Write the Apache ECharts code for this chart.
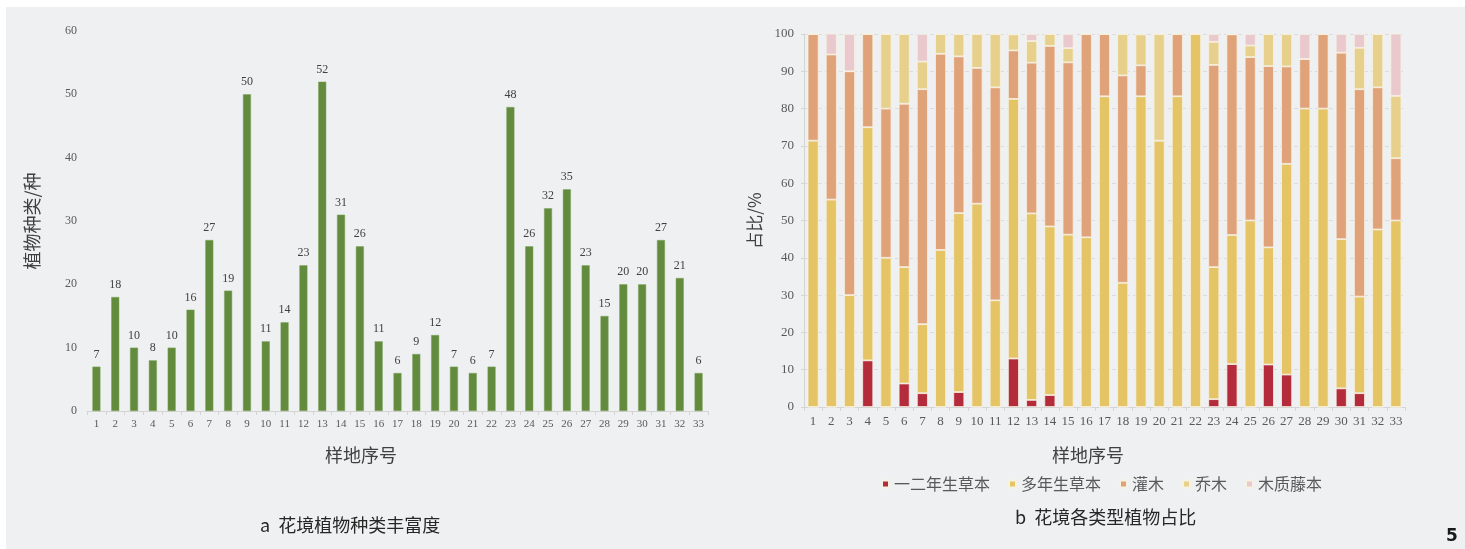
<!DOCTYPE html>
<html>
<head>
<meta charset="utf-8">
<script src="https://cdn.jsdelivr.net/npm/echarts@6/dist/echarts.min.js"></script>
<style>
  html, body { margin: 0; padding: 0; background: #ffffff; }
  #chart { width: 1465px; height: 549px; }
</style>
</head>
<body>
<div id="chart"></div>
<script>
// Plot (sample site) numbers shared by both panels
const sites = ['1','2','3','4','5','6','7','8','9','10','11','12','13','14','15','16','17',
  '18','19','20','21','22','23','24','25','26','27','28','29','30','31','32','33'];

// Panel a: number of plant species per site
const speciesCount = [7,18,10,8,10,16,27,19,50,11,14,23,52,31,26,11,6,9,12,7,6,7,48,26,32,35,23,15,20,20,27,21,6];

// Panel b: share (%) of each plant type per site
const annualHerb = [0,0,0,12.5,0,6.3,3.7,0,4,0,0,13,1.9,3.2,0,0,0,0,0,0,0,0,2.1,11.5,0,11.4,8.7,0,0,5,3.7,0,0];
const perennialHerb = [71.4,55.6,30,62.5,40,31.2,18.5,42.1,48,54.5,28.6,69.6,50,45.2,46.2,45.5,83.3,33.3,83.3,71.4,83.3,100,35.4,34.6,50,31.4,56.5,80,80,40,25.9,47.6,50];
const shrub = [28.6,38.9,60,25,40,43.8,63,52.6,42,36.4,57.1,13,40.4,48.4,46.2,54.5,16.7,55.6,8.3,0,16.7,0,54.2,53.8,43.8,48.6,26.1,13.3,20,50,55.6,38.1,16.7];
const tree = [0,0,0,0,20,18.7,7.4,5.3,6,9.1,14.3,4.3,5.8,3.2,3.8,0,0,11.1,8.3,28.6,0,0,6.2,0,3.1,8.6,8.7,0,0,0,11.1,14.3,16.7];
const woodyVine = [0,5.6,10,0,0,0,7.4,0,0,0,0,0,1.9,0,3.8,0,0,0,0,0,0,0,2.1,0,3.1,0,0,6.7,0,5,3.7,0,16.7];

const typeNames = ['一二年生草本','多年生草本','灌木','乔木','木质藤本'];
const typeColors = ['#b42b3b','#e4c464','#e0a278','#e6d08b','#e9c9cd'];
const typeData = [annualHerb, perennialHerb, shrub, tree, woodyVine];

const serifNum = '"Liberation Serif", "DejaVu Serif", "Noto Sans CJK SC", serif';
const cjk = '"Noto Sans CJK SC", sans-serif';
const tickGray = '#595959';
const lineGray = '#d4d4d4';

const chart = echarts.init(document.getElementById('chart'), null, { renderer: 'canvas' });

const stackSeries = typeNames.map((name, i) => ({
  name: name,
  type: 'bar',
  stack: 'share',
  xAxisIndex: 1,
  yAxisIndex: 1,
  barWidth: 11,
  data: typeData[i],
  itemStyle: { color: typeColors[i], borderColor: '#f7f1e2', borderWidth: 0.8 },
  emphasis: { disabled: true }
}));

chart.setOption({
  animation: false,
  backgroundColor: '#ffffff',
  graphic: [
    { type: 'rect', z: -10, silent: true, shape: { x: 6, y: 7, width: 1459, height: 542 }, style: { fill: '#eff0f2' } },
    { type: 'text', left: 325, top: 446, style: { text: '样地序号', font: '18px ' + cjk, fill: '#404040' } },
    { type: 'text', left: 1052, top: 446, style: { text: '样地序号', font: '18px ' + cjk, fill: '#404040' } },
    { type: 'text', left: 260, top: 516, style: { text: 'a  花境植物种类丰富度', font: '18px ' + cjk, fill: '#262626' } },
    { type: 'text', left: 1015, top: 508, style: { text: 'b  花境各类型植物占比', font: '18px ' + cjk, fill: '#262626' } },
    { type: 'text', left: 1446, top: 528, style: { text: '5', font: 'bold 17px "DejaVu Sans", sans-serif', fill: '#1a1a1a' } }
  ],
  legend: {
    data: typeNames,
    left: 876,
    top: 471,
    itemWidth: 7,
    itemHeight: 7,
    itemGap: 18,
    icon: 'rect',
    textStyle: { fontFamily: cjk, fontSize: 16, color: '#595959' }
  },
  grid: [
    { left: 87, top: 31, width: 621, height: 380 },
    { left: 804, top: 34, width: 601, height: 373 }
  ],
  xAxis: [
    {
      type: 'category', gridIndex: 0, data: sites,
      axisLine: { lineStyle: { color: lineGray } },
      axisTick: { show: true, length: 4, lineStyle: { color: lineGray } },
      axisLabel: { interval: 0, margin: 8, fontSize: 11, color: tickGray, fontFamily: serifNum }
    },
    {
      type: 'category', gridIndex: 1, data: sites,
      axisLine: { lineStyle: { color: lineGray } },
      axisTick: { show: true, length: 4, lineStyle: { color: lineGray } },
      axisLabel: { interval: 0, margin: 8, fontSize: 13, color: tickGray, fontFamily: serifNum }
    }
  ],
  yAxis: [
    {
      type: 'value', gridIndex: 0, min: 0, max: 60, interval: 10,
      name: '植物种类/种', nameLocation: 'middle', nameGap: 46, nameRotate: 90,
      nameTextStyle: { fontFamily: cjk, fontSize: 18, color: '#404040' },
      axisLine: { show: false }, axisTick: { show: false }, splitLine: { show: false },
      axisLabel: { margin: 10, fontSize: 12, color: tickGray, fontFamily: serifNum }
    },
    {
      type: 'value', gridIndex: 1, min: 0, max: 100, interval: 10,
      name: '占比/%', nameLocation: 'middle', nameGap: 41, nameRotate: 90,
      nameTextStyle: { fontFamily: cjk, fontSize: 17, color: '#404040' },
      axisLine: { show: true, lineStyle: { color: lineGray } },
      axisTick: { show: true, length: 3, lineStyle: { color: lineGray } },
      splitLine: { show: true, lineStyle: { color: '#dcdcdc', type: [4, 3] } },
      axisLabel: { margin: 10, fontSize: 13, color: tickGray, fontFamily: serifNum }
    }
  ],
  series: [
    {
      name: '植物种类', type: 'bar', xAxisIndex: 0, yAxisIndex: 0,
      barWidth: 8, data: speciesCount,
      itemStyle: { color: '#628b3d', borderColor: '#7fa35c', borderWidth: 0.5 },
      label: { show: true, position: 'top', distance: 6, fontSize: 12, color: '#404040', fontFamily: serifNum },
      emphasis: { disabled: true }
    }
  ].concat(stackSeries)
});
</script>
</body>
</html>
